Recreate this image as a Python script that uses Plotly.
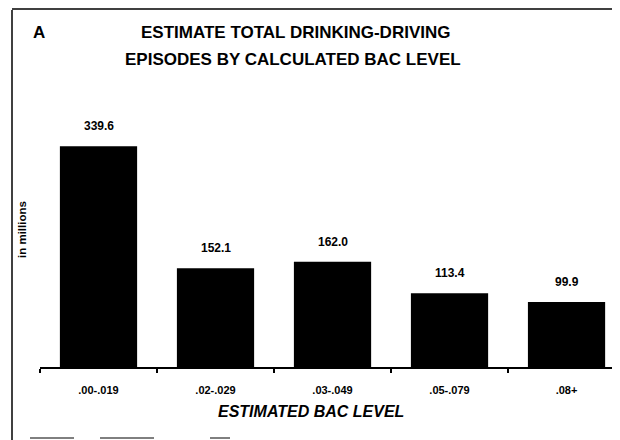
import plotly.graph_objects as go

# BAC level categories and episodes (millions)
categories = [".00-.019", ".02-.029", ".03-.049", ".05-.079", ".08+"]
episodes = [339.6, 152.1, 162.0, 113.4, 99.9]
value_labels = ["339.6", "152.1", "162.0", "113.4", "99.9"]

FONT = "Liberation Sans"

# page offset: the browser body adds 8px, so layout numbers are in figure px
L, T, B, R = 32, 112, 81, 8
PW, PH = 620 - L - R, 440 - T - B


def px_x(x):
    return (x - L) / PW


def px_y(y):
    return (440 - B - y) / PH


fig = go.Figure(
    go.Bar(
        x=categories,
        y=episodes,
        marker=dict(color="black", line=dict(width=0)),
        width=0.66,
        hoverinfo="skip",
    )
)

# value labels above each bar
for cat, val, lab in zip(categories, episodes, value_labels):
    fig.add_annotation(
        x=cat, y=val, text=f"<b>{lab}</b>", showarrow=False,
        yanchor="bottom", yshift=11,
        font=dict(family=FONT, size=12, color="black"),
    )

fig.update_layout(
    width=620, height=440,
    margin=dict(l=L, r=R, t=T, b=B),
    paper_bgcolor="white", plot_bgcolor="white",
    showlegend=False,
    font=dict(family=FONT, color="black"),
)

fig.update_xaxes(
    type="category",
    range=[-0.5, 4.457],
    showline=True, linecolor="black", linewidth=1.5,
    ticks="outside", tickson="boundaries", ticklen=4, tickwidth=1.5, tickcolor="black",
    ticklabelstandoff=12,
    tickfont=dict(family=FONT, size=11, color="black"),
    tickprefix="<b>", ticksuffix="</b>",
    showgrid=False, zeroline=False,
)
fig.update_yaxes(
    range=[0, 380],
    visible=False,
)

# panel letter and title
fig.add_annotation(
    xref="paper", yref="paper", x=px_x(31), y=px_y(25),
    text="<b>A</b>", showarrow=False, xanchor="center", yanchor="middle",
    font=dict(family=FONT, size=17, color="black"),
)
fig.add_annotation(
    xref="paper", yref="paper", x=px_x(287), y=px_y(25),
    text="<b>ESTIMATE TOTAL DRINKING-DRIVING</b>", showarrow=False,
    xanchor="center", yanchor="middle",
    font=dict(family=FONT, size=17, color="black"),
)
fig.add_annotation(
    xref="paper", yref="paper", x=px_x(285), y=px_y(51),
    text="<b>EPISODES BY CALCULATED BAC LEVEL</b>", showarrow=False,
    xanchor="center", yanchor="middle",
    font=dict(family=FONT, size=17, color="black"),
)

# axis titles
fig.add_annotation(
    xref="paper", yref="paper", x=px_x(303), y=px_y(403),
    text="<b><i>ESTIMATED BAC LEVEL</i></b>", showarrow=False,
    xanchor="center", yanchor="middle",
    font=dict(family=FONT, size=16, color="black"),
)
fig.add_annotation(
    xref="paper", yref="paper", x=px_x(14), y=px_y(222),
    text="<b>in millions</b>", showarrow=False, textangle=-90,
    xanchor="center", yanchor="middle",
    font=dict(family=FONT, size=11.5, color="black"),
)

# scanned frame lines (left and top edges, broken strokes at the bottom)
frame = dict(color="black", width=1.5)
fig.add_shape(type="line", xref="paper", yref="paper",
              x0=px_x(4), x1=px_x(4), y0=px_y(440), y1=px_y(2), line=frame)
fig.add_shape(type="line", xref="paper", yref="paper",
              x0=px_x(4), x1=px_x(620), y0=px_y(1), y1=px_y(1), line=frame)
for x0, x1 in [(22, 66), (92, 146), (202, 222)]:
    fig.add_shape(type="line", xref="paper", yref="paper",
                  x0=px_x(x0), x1=px_x(x1), y0=px_y(430), y1=px_y(430),
                  line=dict(color="black", width=1))

fig.write_html("out.html")
